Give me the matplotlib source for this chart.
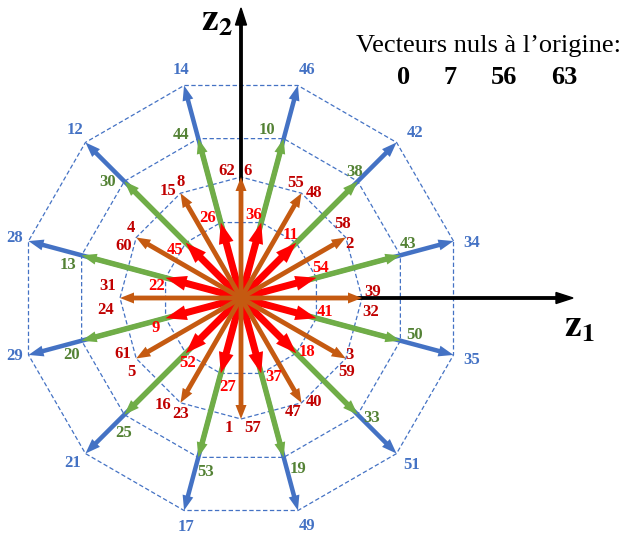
import numpy as np
import matplotlib
matplotlib.use("Agg")
import matplotlib.pyplot as plt

# ---- Vecteurs de tension projetés dans le plan (z1, z2) ----
# 4 dodécagones : amplitude relative (le plus grand = 1)
AMP_BLUE = 1.0
AMP_GREEN = 0.75
AMP_ORANGE = 0.55
AMP_RED = 0.355

# angles (degrés) des vecteurs de chaque famille
ANG_15 = [15, 45, 75, 105, 135, 165, 195, 225, 255, 285, 315, 345]
ANG_0 = [0, 30, 60, 90, 120, 150, 180, 210, 240, 270, 300, 330]

# numéros des états de commutation, dans l'ordre des angles
LBL_BLUE = ["34", "42", "46", "14", "12", "28", "29", "21", "17", "49", "51", "35"]
LBL_GREEN = ["43", "38", "10", "44", "30", "13", "20", "25", "53", "19", "33", "50"]
LBL_ORANGE_A = ["39", "58", "55", "62", "15", "4", "31", "61", "16", "1", "47", "3"]
LBL_ORANGE_B = ["32", "2", "48", "6", "8", "60", "24", "5", "23", "57", "40", "59"]
LBL_RED = ["54", "11", "36", "26", "45", "22", "9", "52", "27", "37", "18", "41"]

NULL_VECTORS = ["0", "7", "56", "63"]

# décalages (pixels) des étiquettes par rapport à la pointe des flèches
OFF_BLUE = [(18, -2), (18, 9), (9, 15), (-3, 15), (-10, 12), (-14, 3),
            (-14, -1), (-13, -9), (2, -16), (9, -15), (15, -11), (18, -5)]
OFF_GREEN = [(8, 11), (-3, 9), (-17, 9), (-17, 4), (-17, -1), (-14, -10),
             (-10, -14), (-1, -18), (7, -15), (14, -12), (14, -3), (14, 6)]
OFF_ORANGE_A = [(11, 6), (-3, 14), (-6, 10), (-14, 6), (-13, 2), (-5, 10),
                (-12, 12), (-13, 5), (-17, -2), (-12, -9), (-8, -9), (4, 4)]
OFF_ORANGE_B = [(9, -14), (4, -6), (13, 0), (7, 6), (0, 11), (-13, -8),
                (-14, -12), (-5, -13), (0, -11), (12, -9), (13, 1), (1, -13)]
OFF_RED = [(4, 10), (-6, 8), (-8, 8), (-13, 5), (-11, -7), (-9, -8),
           (-10, -10), (2, -10), (7, -14), (12, -4), (11, 1), (9, 6)]

C_BLUE = "#4472C4"
C_GREEN = "#70AD47"
C_ORANGE = "#C55A11"
C_RED = "#FF0000"
C_GREEN_TXT = "#548235"
C_ORANGE_TXT = "#C00000"

W, H = 624, 533
CX, CY = 241, 298      # origine en pixels
S = 220.0              # pixels par unité

plt.rcParams["mathtext.fontset"] = "stix"

fig = plt.figure(figsize=(W / 100, H / 100), dpi=100)
ax = fig.add_axes([0, 0, 1, 1])
ax.set_xlim(-CX / S, (W - CX) / S)
ax.set_ylim(-(H - CY) / S, CY / S)
ax.set_aspect("equal")
ax.axis("off")

serif = "Liberation Serif"


def polar(r, ang):
    a = np.deg2rad(np.asarray(ang, dtype=float))
    return r * np.cos(a), r * np.sin(a)


def dodecagon(r, ang):
    x, y = polar(r, ang)
    x = np.append(x, x[0])
    y = np.append(y, y[0])
    ax.plot(x, y, color=C_BLUE, lw=0.9, ls=(0, (3.5, 2)), zorder=1)


# polygones en pointillés
dodecagon(AMP_BLUE, ANG_15)
dodecagon(AMP_GREEN, ANG_15)
dodecagon(AMP_ORANGE, ANG_0)
dodecagon(AMP_RED, ANG_15)

# axes z1 / z2
ax.arrow(0, 0, 332 / S, 0, width=2.4 / S, head_width=11 / S, head_length=17 / S,
         length_includes_head=True, color="black", zorder=2)
ax.arrow(0, 0, 0, 290 / S, width=2.4 / S, head_width=11 / S, head_length=17 / S,
         length_includes_head=True, color="black", zorder=2)


def vectors(r, ang, color, shaft, hw, hl, z):
    xs, ys = polar(r, ang)
    for x, y in zip(xs, ys):
        ax.arrow(0, 0, x, y, width=shaft / S, head_width=hw / S,
                 head_length=hl / S, length_includes_head=True,
                 color=color, lw=0, zorder=z)


vectors(AMP_BLUE, ANG_15, C_BLUE, 4.5, 11, 15, 3)
vectors(AMP_GREEN, ANG_15, C_GREEN, 5.5, 11, 15, 4)
vectors(AMP_RED, ANG_15, C_RED, 7, 15, 21, 5)
vectors(AMP_ORANGE, ANG_0, C_ORANGE, 4.8, 11, 14, 6)


def labels(r, ang, names, offsets, color, size=12):
    xs, ys = polar(r, ang)
    for x, y, s, (dx, dy) in zip(xs, ys, names, offsets):
        ax.annotate(s, (x, y), xytext=(dx, dy), textcoords="offset pixels",
                    ha="center", va="center", color=color, fontsize=size,
                    fontweight="bold", family=serif, zorder=8)


labels(AMP_BLUE, ANG_15, LBL_BLUE, OFF_BLUE, C_BLUE)
labels(AMP_GREEN, ANG_15, LBL_GREEN, OFF_GREEN, C_GREEN_TXT)
labels(AMP_ORANGE, ANG_0, LBL_ORANGE_A, OFF_ORANGE_A, C_ORANGE_TXT)
labels(AMP_ORANGE, ANG_0, LBL_ORANGE_B, OFF_ORANGE_B, C_ORANGE_TXT)
labels(AMP_RED, ANG_15, LBL_RED, OFF_RED, C_RED)

# noms des axes
fig.text(579 / W, 1 - 327 / H, r"$\mathbf{z}_\mathbf{1}$", fontsize=27,
         ha="center", va="center")
fig.text(217 / W, 1 - 21 / H, r"$\mathbf{z}_\mathbf{2}$", fontsize=27,
         ha="center", va="center")

# vecteurs nuls
fig.text(488 / W, 1 - 52 / H, "Vecteurs nuls à l\u2019origine:", fontsize=19,
         family=serif, ha="center", va="baseline")
for s, px in zip(NULL_VECTORS, [404, 450, 504, 564]):
    fig.text(px / W, 1 - 84 / H, s, fontsize=19, family=serif,
             fontweight="bold", ha="center", va="baseline")

fig.savefig("out.png", dpi=100)
